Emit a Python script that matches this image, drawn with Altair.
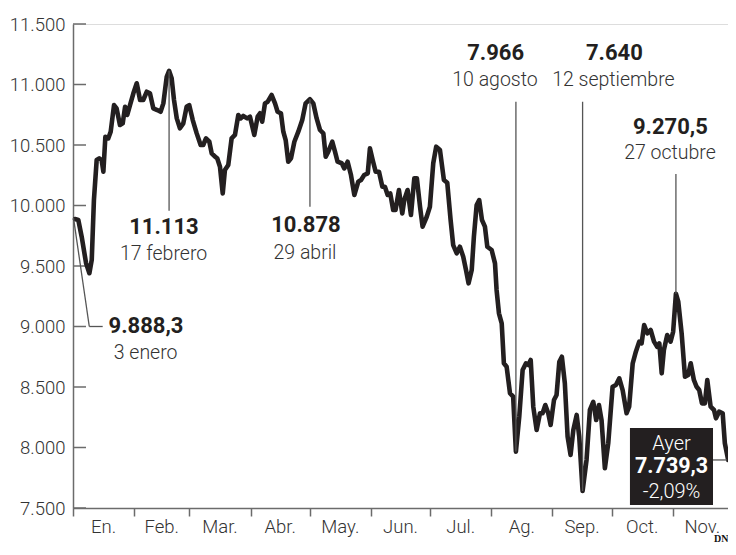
import altair as alt
import pandas as pd

# ---- datos (IBEX 35, 2011) ----
dias = [1.0, 2.7, 4.4, 6.6, 8.3, 9.5, 10.6, 12.0, 13.3, 14.5,
        15.4, 16.4, 17.9, 19.1, 20.8, 22.1, 23.8, 25.2, 26.4, 27.5,
        28.9, 30.6, 32.3, 34.0, 35.6, 37.4, 39.0, 40.7, 42.7, 44.4,
        45.8, 47.5, 48.7, 50.0, 51.2, 52.6, 54.2, 55.9, 57.6, 58.9,
        60.7, 62.7, 64.7, 66.0, 67.4, 69.1, 70.3, 72.0, 73.1, 74.5,
        75.9, 77.0, 78.7, 80.4, 82.1, 83.8, 85.0, 86.3, 88.3, 89.7,
        91.9, 93.6, 94.8, 95.9, 97.3, 98.7, 100.7, 102.4, 103.7, 105.4,
        106.6, 107.8, 109.1, 110.5, 112.2, 114.2, 116.2, 117.9, 120.1, 121.8,
        123.5, 125.2, 126.9, 128.1, 129.4, 131.4, 132.8, 134.1, 136.2, 137.5,
        139.2, 140.9, 142.6, 144.6, 146.0, 147.6, 149.4, 150.5, 151.9, 153.4,
        155.1, 156.8, 158.1, 159.5, 160.8, 162.3, 163.5, 165.2, 166.9, 167.9,
        169.6, 171.3, 173.0, 174.3, 175.9, 177.2, 179.3, 180.9, 182.6, 184.1,
        186.0, 188.0, 189.7, 191.4, 192.7, 194.5, 196.1, 197.8, 199.2, 200.5,
        202.1, 203.2, 204.6, 205.9, 207.3, 208.8, 210.0, 212.2, 213.9, 214.7,
        215.9, 217.3, 218.4, 219.8, 221.5, 223.1, 224.5, 226.2, 227.9, 229.6,
        230.8, 232.0, 233.3, 235.0, 236.7, 238.0, 239.4, 240.9, 242.1, 243.8,
        245.1, 246.5, 247.8, 249.3, 250.7, 252.2, 253.6, 255.3, 256.6, 258.3,
        260.3, 262.0, 263.7, 265.2, 266.6, 267.9, 269.6, 271.3, 273.5, 275.2,
        276.9, 278.6, 280.6, 281.9, 283.7, 285.3, 287.0, 288.2, 289.5, 291.1,
        292.8, 294.5, 296.1, 297.2, 298.4, 299.5, 301.2, 302.9, 304.2, 305.6,
        306.8, 308.5, 310.2, 311.8, 313.1, 314.7, 316.1, 317.4, 318.8, 320.3,
        321.5, 323.2, 324.9, 325.9, 327.5, 329.3, 330.4, 332.1]

valores = [9888, 9880, 9742, 9525, 9440, 9550, 10045, 10376, 10390, 10376,
           10279, 10568, 10555, 10610, 10830, 10803, 10665, 10679, 10816, 10748,
           10830, 10927, 11010, 10872, 10872, 10940, 10927, 10803, 10789, 10775,
           10844, 11064, 11113, 11051, 10872, 10720, 10638, 10679, 10816, 10830,
           10706, 10596, 10500, 10500, 10555, 10527, 10431, 10403, 10390, 10320,
           10100, 10293, 10335, 10555, 10583, 10748, 10720, 10740, 10720, 10734,
           10583, 10734, 10762, 10692, 10844, 10858, 10913, 10844, 10775, 10762,
           10610, 10541, 10362, 10390, 10527, 10610, 10706, 10844, 10878, 10844,
           10720, 10624, 10596, 10403, 10445, 10527, 10445, 10362, 10349, 10307,
           10362, 10252, 10087, 10197, 10211, 10252, 10266, 10472, 10376, 10279,
           10279, 10155, 10155, 10087, 10100, 9963, 9963, 10128, 9935, 10045,
           10128, 9921, 10225, 10225, 9990, 9825, 9907, 9990, 10349, 10486,
           10459, 10211, 10188, 9880, 9673, 9605, 9659, 9577, 9467, 9357,
           9467, 9742, 10004, 10045, 9880, 9825, 9659, 9632, 9522, 9302,
           9109, 9026, 8696, 8668, 8448, 8420, 7966, 8255, 8640, 8696,
           8682, 8723, 8337, 8145, 8283, 8283, 8351, 8283, 8186, 8393,
           8434, 8709, 8750, 8531, 8090, 7938, 8145, 8269, 8090, 7640,
           7897, 8310, 8378, 8227, 8351, 8227, 7828, 8035, 8502, 8516,
           8571, 8475, 8283, 8337, 8696, 8792, 8875, 8861, 9012, 8944,
           8971, 8875, 8833, 8861, 8613, 8806, 8930, 8875, 8957, 9270.5,
           9205, 8944, 8585, 8599, 8696, 8558, 8502, 8475, 8365, 8365,
           8558, 8337, 8310, 8241, 8296, 8283, 8035, 7897]

meses = ["En.", "Feb.", "Mar.", "Abr.", "May.", "Jun.", "Jul.", "Ag.", "Sep.", "Oct.", "Nov."]
y_ticks = [7500, 8000, 8500, 9000, 9500, 10000, 10500, 11000, 11500]

# annotations
ann_bold = ["9.888,3", "11.113", "10.878", "7.966", "7.640", "9.270,5"]
ann_bold_dia = [37.0, 46.1, 118.1, 214.2, 274.4, 302.8]
ann_bold_val = [9007, 9825, 9839, 11258, 11258, 10651]
ann_fecha = ["3 enero", "17 febrero", "29 abril", "10 agosto", "12 septiembre", "27 octubre"]
ann_fecha_dia = [36.8, 45.9, 117.6, 213.9, 273.9, 302.6]
ann_fecha_val = [8781, 9599, 9607, 11037, 11037, 10431]

seg_d1 = [48.7, 120.1, 224.5, 258.3, 305.6, 0.25, 8.26, 324.4]
seg_v1 = [11113, 10878, 7966, 7640, 9270.5, 9897, 9000, 7897]
seg_d2 = [48.7, 120.1, 224.5, 258.3, 305.6, 8.26, 15.05, 331.5]
seg_v2 = [9957, 9990, 10858, 10858, 10260, 9000, 9000, 7897]

caja_d = [282.3, 324.4]
caja_v = [7525, 8161]
caja_txt = ["Ayer", "7.739,3", "-2,09%"]
caja_txt_val = [8026, 7841, 7632]
caja_txt_dia = 303.4

# ---- tables ----
base = pd.Timestamp("2011-01-01")
def fecha(d):
    return base + pd.to_timedelta(pd.Series(d, dtype=float), unit="D")

df = pd.DataFrame({"fecha": fecha(dias), "valor": valores})
inicios = pd.date_range("2011-01-01", "2011-12-01", freq="MS")
mid = inicios[:-1] + (inicios[1:] - inicios[:-1]) / 2
df_mes = pd.DataFrame({"fecha": mid, "mes": meses})
df_yt = pd.DataFrame({"valor": y_ticks})
df_bold = pd.DataFrame({"fecha": fecha(ann_bold_dia), "valor": ann_bold_val, "t": ann_bold})
df_fec = pd.DataFrame({"fecha": fecha(ann_fecha_dia), "valor": ann_fecha_val, "t": ann_fecha})
df_seg = pd.DataFrame({"fecha": fecha(seg_d1), "valor": seg_v1,
                       "fecha2": fecha(seg_d2), "valor2": seg_v2})
df_caja = pd.DataFrame({"fecha": fecha([caja_d[0]]), "fecha2": fecha([caja_d[1]]),
                        "valor": [caja_v[0]], "valor2": [caja_v[1]]})
df_caja_n = pd.DataFrame({"fecha": fecha([caja_txt_dia] * 2),
                          "valor": [caja_txt_val[0], caja_txt_val[2]],
                          "t": [caja_txt[0], caja_txt[2]]})
df_caja_b = pd.DataFrame({"fecha": fecha([caja_txt_dia]),
                          "valor": [caja_txt_val[1]], "t": [caja_txt[1]]})

W, H = 655, 484
FONT = "Roboto"
INK = "#231f20"
GRAY = "#6b6b6b"
TXT = "#333333"

xscale = alt.Scale(domain=[alt.DateTime(year=2011, month=1, date=1),
                           alt.DateTime(year=2011, month=11, date=29)])
yscale = alt.Scale(domain=[7500, 11500], nice=False, zero=False)

month_vals = [alt.DateTime(year=2011, month=m, date=1) for m in range(1, 12)]

X = alt.X("fecha:T", scale=xscale,
          axis=alt.Axis(values=month_vals, labels=False, ticks=True, tickSize=8,
                        tickColor=GRAY, tickWidth=1.5, domainColor=GRAY, domainWidth=1.5,
                        grid=False, title=None))
Y = alt.Y("valor:Q", scale=yscale,
          axis=alt.Axis(values=y_ticks, labelExpr="replace(format(datum.value, ','), ',', '.')",
                        tickSize=0, labelPadding=8, labelFontSize=18.5, labelFont=FONT,
                        labelFontWeight=300,
                        labelColor=TXT, domainColor=GRAY, domainWidth=1.5, grid=False,
                        title=None))

ticks_y = alt.Chart(df_yt).mark_rule(color=GRAY, strokeWidth=1.5).encode(
    y=alt.Y("valor:Q", scale=yscale), x=alt.value(0), x2=alt.value(13))

linea = alt.Chart(df).mark_line(color=INK, strokeWidth=4.6, strokeJoin="round",
                                strokeCap="round").encode(x=X, y=Y)

segs = alt.Chart(df_seg).mark_rule(color="#555555", strokeWidth=1.3).encode(
    x="fecha:T", y="valor:Q", x2="fecha2:T", y2="valor2:Q")

caja = alt.Chart(df_caja).mark_rect(color=INK).encode(
    x="fecha:T", x2="fecha2:T", y="valor:Q", y2="valor2:Q")

caja_n = alt.Chart(df_caja_n).mark_text(color="white", fontSize=20, font=FONT,
                                        fontWeight=300, baseline="middle").encode(
    x="fecha:T", y="valor:Q", text="t:N")
caja_b = alt.Chart(df_caja_b).mark_text(color="white", fontSize=21.5, font=FONT,
                                        fontWeight="bold", baseline="middle").encode(
    x="fecha:T", y="valor:Q", text="t:N")

bold = alt.Chart(df_bold).mark_text(color=INK, fontSize=22, fontWeight="bold", font=FONT,
                                    baseline="middle").encode(
    x="fecha:T", y="valor:Q", text="t:N")

fec = alt.Chart(df_fec).mark_text(color=TXT, fontSize=19.5, font=FONT, fontWeight=300,
                                  baseline="middle").encode(
    x="fecha:T", y="valor:Q", text="t:N")

mes_t = alt.Chart(df_mes).mark_text(color=TXT, fontSize=18.5, font=FONT, fontWeight=300,
                                    baseline="middle").encode(
    x="fecha:T", y=alt.value(H + 19), text="mes:N")

dn = alt.Chart(pd.DataFrame({"t": ["DN"]})).mark_text(
    color="#111111", fontSize=10, fontWeight="bold", font="Liberation Serif, DejaVu Serif, serif",
    align="left", baseline="alphabetic").encode(x=alt.value(W - 14), y=alt.value(H + 34), text="t:N")

chart = alt.layer(ticks_y, linea, segs, caja, caja_n, caja_b, bold, fec, mes_t, dn).properties(
    width=W, height=H,
    autosize=alt.AutoSizeParams(type="none"),
    padding={"left": 65, "top": 16, "right": 0, "bottom": 35},
).configure_view(stroke=None).configure(background="white")

chart.save("out.html", embed_options={"renderer": "svg", "actions": False})
